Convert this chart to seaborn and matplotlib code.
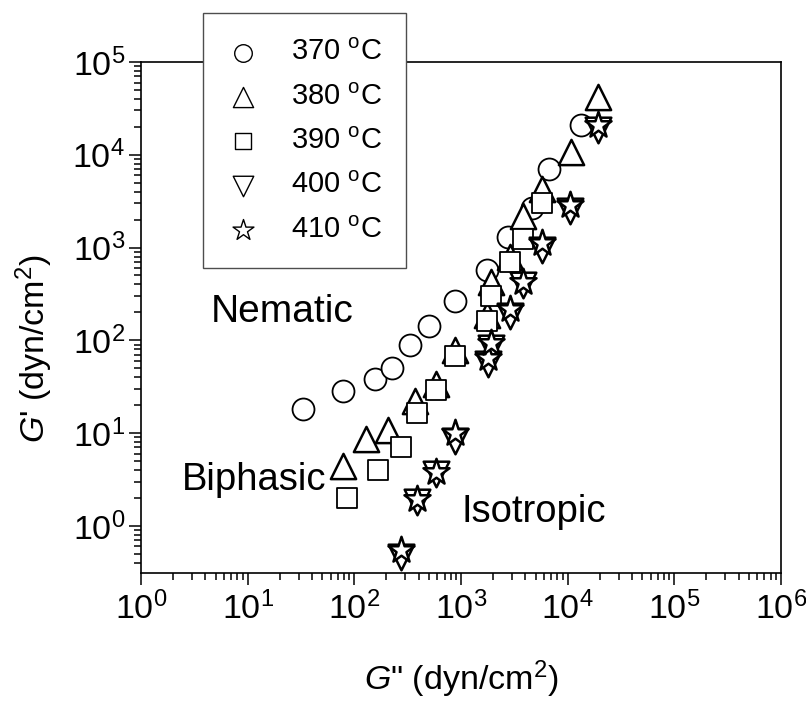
import matplotlib
matplotlib.use("Agg")
import matplotlib.pyplot as plt
from matplotlib.ticker import LogLocator, NullFormatter
import seaborn as sns
import numpy as np
import pandas as pd

# G'' (x) and G' (y) in dyn/cm2
x_370 = [33, 79, 156, 226, 334, 500, 873, 1735, 2775, 4600, 6750, 13400]
y_370 = [18.2, 28.3, 38.4, 50.4, 88.6, 142, 266, 569, 1300, 2640, 7100, 21100]

x_380 = [77.6, 129, 206, 372, 587, 873, 1735, 1905, 2877, 3845, 5800, 10700, 19100]
y_380 = [4.4, 8.7, 10.9, 22.2, 34.2, 78, 186, 420, 792, 2175, 4220, 10700, 42000]

x_390 = [85, 168, 275, 388, 587, 873, 1735, 1905, 2877, 3845, 5800]
y_390 = [2.02, 4.05, 7.1, 16.3, 29, 68, 162, 301, 700, 1230, 3025]

x_400 = [275, 388, 587, 873, 1774, 1905, 2877, 3845, 5700, 10560, 19100]
y_400 = [0.46, 1.79, 3.58, 8.2, 55, 83.6, 182, 399, 935, 2460, 18300]

x_410 = [275, 388, 587, 873, 1774, 1905, 2877, 3845, 5700, 10560, 19100]
y_410 = [0.55, 1.97, 3.82, 9.9, 63.7, 93.8, 220, 426, 1130, 2860, 20800]

labels = ["370 $^{\\mathrm{o}}$C", "380 $^{\\mathrm{o}}$C", "390 $^{\\mathrm{o}}$C",
          "400 $^{\\mathrm{o}}$C", "410 $^{\\mathrm{o}}$C"]

series = [
    (x_370, y_370, "o", 250, 1.3),
    (x_380, y_380, "^", 330, 1.8),
    (x_390, y_390, "s", 210, 1.3),
    (x_400, y_400, "v", 340, 1.8),
    (x_410, y_410, "*", 390, 1.8),
]

sns.set_style("ticks")
plt.rcParams["font.family"] = ["Liberation Sans", "DejaVu Sans"]
plt.rcParams["mathtext.fontset"] = "custom"
plt.rcParams["mathtext.rm"] = "Liberation Sans"
plt.rcParams["mathtext.it"] = "Liberation Sans:italic"
for k in ["text.color", "axes.labelcolor", "xtick.color", "ytick.color", "axes.edgecolor"]:
    plt.rcParams[k] = "black"

fig = plt.figure(figsize=(8.06, 7.04), dpi=100)
ax = fig.add_axes([0.175, 0.186, 0.794, 0.726])

for (xs, ys, m, s, lw), lab in zip(series, labels):
    df = pd.DataFrame({"G2": xs, "G1": ys})
    sns.scatterplot(data=df, x="G2", y="G1", marker=m, s=s, facecolor="white",
                    edgecolor="black", linewidth=lw, label=lab, ax=ax, zorder=3)

ax.set_xscale("log")
ax.set_yscale("log")
ax.set_xlim(1, 1e6)
ax.set_ylim(0.31, 1e5)
for axis in [ax.xaxis, ax.yaxis]:
    axis.set_major_locator(LogLocator(base=10, numticks=20))
    axis.set_minor_locator(LogLocator(base=10, subs=np.arange(2, 10), numticks=100))
    axis.set_minor_formatter(NullFormatter())

for sp in ax.spines.values():
    sp.set_linewidth(1.2)

ax.tick_params(which="both", direction="out", top=False, right=False, width=1.1)
ax.tick_params(which="major", length=8.5, labelsize=24.5, pad=5)
ax.tick_params(which="minor", length=4.8)
ax.tick_params(axis="y", which="major", pad=3)

ax.set_xlabel("$\\mathit{G}$\" (dyn/cm$^{2}$)", fontsize=24.5, labelpad=23)
ax.set_ylabel("$\\mathit{G}$' (dyn/cm$^{2}$)", fontsize=24.5)
ax.yaxis.set_label_coords(-0.135, 0.44)

ax.text(4.47, 158, "Nematic", fontsize=28, ha="left", va="baseline")
ax.text(2.42, 2.43, "Biphasic", fontsize=27.5, ha="left", va="baseline")
ax.text(1009, 1.10, "Isotropic", fontsize=27.5, ha="left", va="baseline")

leg = ax.legend(loc="upper left", bbox_to_anchor=(0.2515, 0.981),
                bbox_transform=fig.transFigure, borderaxespad=0, frameon=True,
                fancybox=False, edgecolor="0.3", framealpha=1, fontsize=21,
                markerscale=0.8, borderpad=0.85, labelspacing=0.56,
                handlelength=1.05, handletextpad=1.11)
leg.get_frame().set_linewidth(1.0)
for h in leg.legend_handles:
    h.set_linewidth(1.0)

fig.savefig("out.png", dpi=100)
